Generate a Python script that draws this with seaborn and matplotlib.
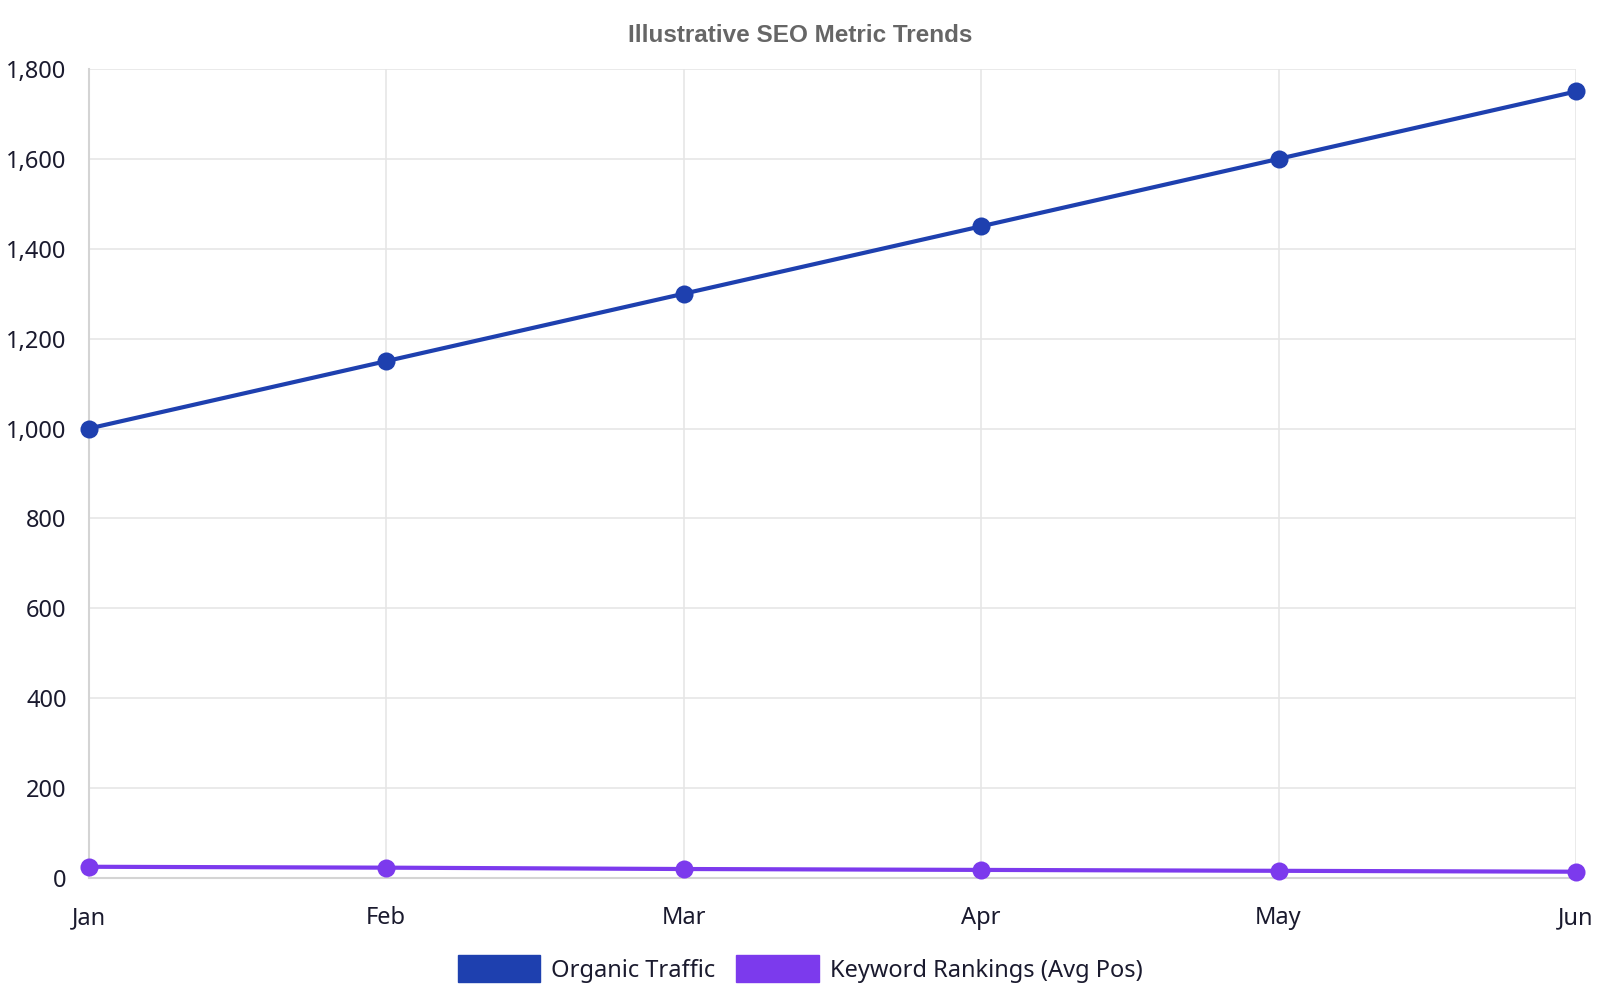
import matplotlib
matplotlib.use("Agg")
import matplotlib.pyplot as plt
import seaborn as sns
import pandas as pd
from matplotlib.patches import Patch
from matplotlib.ticker import FuncFormatter, MultipleLocator

months = ["Jan", "Feb", "Mar", "Apr", "May", "Jun"]
organic_traffic = [1000, 1150, 1300, 1450, 1600, 1750]
keyword_rankings = [25, 23, 20, 18, 16, 14]
series_names = ["Organic Traffic", "Keyword Rankings (Avg Pos)"]
colors = ["#1e40af", "#7c3aed"]

sns.set_theme(style="white")
plt.rcParams['font.family'] = ['Noto Sans', 'DejaVu Sans']

df = pd.DataFrame({
    "month": months * 2,
    "x": list(range(len(months))) * 2,
    "value": organic_traffic + keyword_rankings,
    "series": [series_names[0]] * len(months) + [series_names[1]] * len(months),
})

fig = plt.figure(figsize=(16, 10), dpi=100)
ax = fig.add_axes([0.0555, 0.122, 0.9295, 0.809])

sns.lineplot(data=df, x="x", y="value", hue="series", palette=colors,
             hue_order=series_names, marker="o", markersize=13,
             markeredgewidth=0, linewidth=3, ax=ax, legend=False,
             clip_on=False, zorder=3)

ax.set_xlim(0, len(months) - 1)
ax.set_ylim(0, 1800)
ax.set_xticks(range(len(months)))
ax.set_xticklabels(months)
ax.yaxis.set_major_locator(MultipleLocator(200))
ax.yaxis.set_major_formatter(FuncFormatter(lambda v, p: f"{int(v):,}"))
ax.set_xlabel("")
ax.set_ylabel("")

ax.grid(True, color="#e6e6e6", linewidth=1.2, zorder=0)
for s in ["top", "right"]:
    ax.spines[s].set_visible(False)
for s in ["left", "bottom"]:
    ax.spines[s].set_color("#d4d4d4")
    ax.spines[s].set_linewidth(1.5)

ax.tick_params(axis="both", which="major", length=11, width=1.2,
               color="#e6e6e6", labelsize=17, labelcolor="#1a1a2e")
ax.tick_params(axis="y", pad=5)
ax.tick_params(axis="x", pad=9)

fig.suptitle("Illustrative SEO Metric Trends", x=0.5, y=0.964,
             fontsize=17.5, fontweight="bold", color="#666666",
             family=["Liberation Sans", "DejaVu Sans"], va="center")

handles = [Patch(facecolor=c, edgecolor=c) for c in colors]
fig.legend(handles, series_names, loc="center", bbox_to_anchor=(0.5, 0.031),
           ncol=2, frameon=False, fontsize=17, handlelength=3.5,
           handleheight=1.35, handletextpad=0.45, columnspacing=0.9,
           labelcolor="#1a1a2e")

fig.savefig("out.png", dpi=100)
